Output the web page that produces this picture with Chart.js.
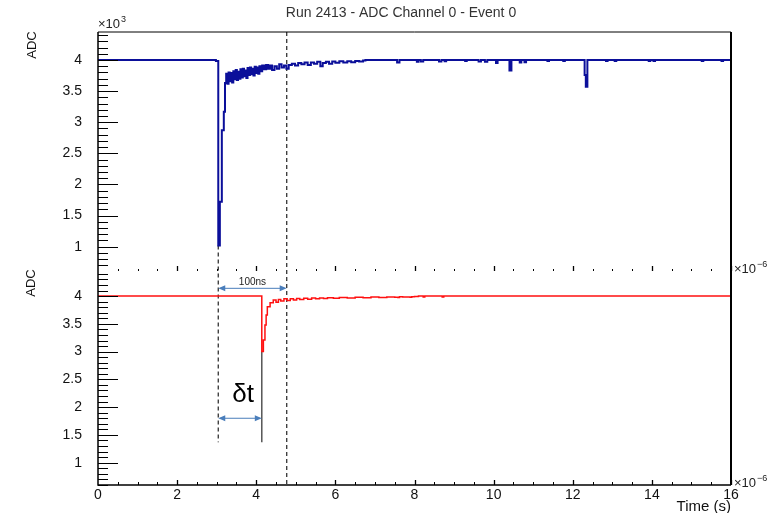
<!DOCTYPE html>
<html>
<head>
<meta charset="utf-8">
<title>Run 2413 - ADC Channel 0 - Event 0</title>
<script src="https://cdn.jsdelivr.net/npm/chart.js@4.4.0/dist/chart.umd.min.js"></script>
<style>
  html, body { margin: 0; padding: 0; background: #fff; }
  #wrap { width: 782px; height: 513px; }
</style>
</head>
<body>
<div id="wrap"><canvas id="adcChart" width="782" height="513"></canvas></div>
<script>
  // time in microseconds, ADC in counts (shown in units of 10^3)
  const blueTime = [
    0, 2.98, 3.04, 3.08, 3.13, 3.18, 3.21, 3.24, 3.27, 3.30, 3.33, 3.36, 3.39, 3.42, 3.45, 3.48,
    3.51, 3.54, 3.57, 3.60, 3.63, 3.66, 3.69, 3.72, 3.75, 3.78, 3.81, 3.84, 3.87, 3.90, 3.93, 3.96,
    3.99, 4.02, 4.05, 4.08, 4.11, 4.15, 4.20, 4.25, 4.30, 4.35, 4.40, 4.46, 4.52, 4.58, 4.64, 4.70,
    4.76, 4.82, 4.90, 4.98, 5.06, 5.14, 5.22, 5.30, 5.38, 5.46, 5.54, 5.62, 5.68, 5.76, 5.84, 5.92,
    6.00, 6.10, 6.20, 6.30, 6.40, 6.50, 6.60, 6.70, 6.76, 7.56, 7.62, 8.06, 8.10, 8.16, 8.22, 8.62,
    8.68, 8.76, 8.80, 9.28, 9.32, 9.62, 9.68, 9.78, 9.84, 10.06, 10.10, 10.40, 10.45, 10.66, 10.70, 10.78,
    10.82, 11.36, 11.40, 11.76, 11.80, 12.30, 12.33, 12.37, 12.84, 12.88, 13.06, 13.10, 13.92, 13.96, 14.04, 14.08,
    15.26, 15.30, 15.76, 15.80, 16
  ];
  const blueAdc = [
    4000, 3985, 1020, 1720, 2870, 3170, 3630, 3780, 3620, 3800, 3660, 3790, 3640, 3820, 3690, 3840,
    3680, 3810, 3700, 3850, 3720, 3860, 3740, 3830, 3710, 3870, 3760, 3880, 3770, 3860, 3750, 3890,
    3790, 3880, 3780, 3900, 3820, 3910, 3850, 3920, 3860, 3910, 3840, 3900, 3860, 3930, 3880, 3910,
    3860, 3920, 3940, 3910, 3950, 3930, 3960, 3920, 3960, 3940, 3970, 3900, 3950, 3970, 3940, 3975,
    3955, 3980, 3960, 3980, 3965, 3985, 3975, 3990, 4000, 3960, 4000, 3970, 4000, 3975, 4000, 3975,
    4000, 3980, 4000, 3985, 4000, 3975, 4000, 3970, 4000, 3950, 4000, 3830, 4000, 3960, 4000, 3965,
    4000, 3985, 4000, 3985, 4000, 3760, 3570, 4000, 3985, 4000, 3985, 4000, 3985, 4000, 3985, 4000,
    3985, 4000, 3985, 4000, 4000
  ];

  const redTime = [
    0, 4.14, 4.18, 4.22, 4.25, 4.28, 4.35, 4.43, 4.50, 4.56, 4.62, 4.70, 4.78, 4.86, 4.94, 5.02,
    5.10, 5.20, 5.30, 5.40, 5.50, 5.60, 5.70, 5.80, 5.95, 6.10, 6.30, 6.50, 6.70, 6.90, 7.10, 7.30,
    7.50, 7.58, 7.62, 7.70, 7.89, 7.93, 8.00, 8.10, 8.22, 8.26, 8.70, 8.74, 16
  ];
  const redAdc = [
    4000, 3000, 3210, 3480, 3660, 3810, 3880, 3930, 3890, 3940, 3910, 3950, 3920, 3950, 3930, 3955,
    3940, 3960, 3945, 3965, 3950, 3965, 3955, 3970, 3960, 3975, 3965, 3980, 3970, 3985, 3975, 3985,
    3980, 3975, 3990, 3985, 3980, 3990, 3995, 4000, 3985, 4000, 3985, 4000, 4000
  ];

  // labelled ADC ticks on both panels
  const adcTicks = [1000, 1500, 2000, 2500, 3000, 3500, 4000];

  // trigger references and the red pulse onset (µs)
  const markerTimes = [3.04, 4.77];
  const pulseOnset = 4.14;
  const windowLabel = "100ns";
  const delayLabel = "δt";

  const FONT = '"Liberation Sans", Arial, Helvetica, sans-serif';

  function toPoints(times, values) {
    return times.map((t, i) => ({ x: t, y: values[i] }));
  }

  function arrowHead(ctx, x, y, dir) {
    ctx.beginPath();
    ctx.moveTo(x, y);
    ctx.lineTo(x + dir * 7, y - 3);
    ctx.lineTo(x + dir * 7, y + 3);
    ctx.closePath();
    ctx.fill();
  }

  function doubleArrow(ctx, x1, x2, y) {
    ctx.beginPath();
    ctx.moveTo(x1 + 2, y);
    ctx.lineTo(x2 - 2, y);
    ctx.stroke();
    arrowHead(ctx, x1, y, 1);
    arrowHead(ctx, x2, y, -1);
  }

  function powerLabel(ctx, x, y, base, exp) {
    ctx.textAlign = "left";
    ctx.textBaseline = "alphabetic";
    ctx.font = `13px ${FONT}`;
    ctx.fillText(base, x, y);
    const w = ctx.measureText(base).width;
    ctx.font = `9px ${FONT}`;
    ctx.fillText(exp, x + w + 1, y - 6);
  }

  const panelMarks = {
    id: "panelMarks",
    beforeDatasetsDraw(chart) {
      const { ctx, chartArea } = chart;
      const x = chart.scales.x;
      const yTop = chart.scales.yTop;
      const yBottom = chart.scales.yBottom;
      ctx.save();
      ctx.strokeStyle = "#333";
      ctx.lineWidth = 1.3;
      ctx.setLineDash([4, 3]);
      let px = x.getPixelForValue(markerTimes[0]);
      ctx.beginPath();
      ctx.moveTo(px, yTop.getPixelForValue(1020));
      ctx.lineTo(px, yBottom.getPixelForValue(1370));
      ctx.stroke();
      px = x.getPixelForValue(markerTimes[1]);
      ctx.beginPath();
      ctx.moveTo(px, chartArea.top);
      ctx.lineTo(px, chartArea.bottom);
      ctx.stroke();
      ctx.setLineDash([]);
      ctx.strokeStyle = "#555";
      ctx.lineWidth = 1.5;
      px = x.getPixelForValue(pulseOnset);
      ctx.beginPath();
      ctx.moveTo(px, yBottom.getPixelForValue(3000));
      ctx.lineTo(px, yBottom.getPixelForValue(1370));
      ctx.stroke();
      ctx.restore();
    },
    afterDatasetsDraw(chart) {
      const { ctx, chartArea } = chart;
      const x = chart.scales.x;
      const yTop = chart.scales.yTop;
      const yBottom = chart.scales.yBottom;
      const { left, right, top, bottom } = chartArea;
      ctx.save();

      // frame
      ctx.strokeStyle = "#000";
      ctx.lineWidth = 1;
      ctx.beginPath();
      ctx.moveTo(left, top);
      ctx.lineTo(right, top);
      ctx.stroke();
      ctx.lineWidth = 1.5;
      ctx.beginPath();
      ctx.moveTo(left, top);
      ctx.lineTo(left, bottom);
      ctx.lineTo(right, bottom);
      ctx.stroke();
      ctx.lineWidth = 2;
      ctx.beginPath();
      ctx.moveTo(right, top);
      ctx.lineTo(right, bottom);
      ctx.stroke();

      // inward y ticks, major every 500 and minor every 100
      ctx.lineWidth = 1;
      [yTop, yBottom].forEach((scale) => {
        for (let v = Math.ceil(scale.min / 100) * 100; v <= scale.max; v += 100) {
          const py = Math.round(scale.getPixelForValue(v)) + 0.5;
          const len = v % 500 === 0 ? 20 : 10;
          ctx.beginPath();
          ctx.moveTo(left, py);
          ctx.lineTo(left + len, py);
          ctx.stroke();
        }
      });

      // x ticks on both panels
      const split = yTop.bottom;
      for (let v = 0.5; v <= 16; v += 0.5) {
        const px = Math.round(x.getPixelForValue(v)) + 0.5;
        const major = v % 2 === 0;
        ctx.lineWidth = major ? 1.3 : 1;
        ctx.beginPath();
        ctx.moveTo(px, split + 1);
        ctx.lineTo(px, split + 1 - (major ? 5 : 2));
        ctx.moveTo(px, bottom);
        ctx.lineTo(px, bottom - (major ? 5 : 3));
        ctx.stroke();
      }

      // annotation arrows
      ctx.strokeStyle = "#4a7ebb";
      ctx.fillStyle = "#4a7ebb";
      ctx.lineWidth = 1;
      const m0 = x.getPixelForValue(markerTimes[0]);
      const m1 = x.getPixelForValue(markerTimes[1]);
      const onset = x.getPixelForValue(pulseOnset);
      const yWin = yBottom.getPixelForValue(4140);
      const yDelay = yBottom.getPixelForValue(1800);
      doubleArrow(ctx, m0, m1, yWin);
      doubleArrow(ctx, m0, onset, yDelay);

      ctx.fillStyle = "#222";
      ctx.textAlign = "center";
      ctx.textBaseline = "middle";
      ctx.font = `10px ${FONT}`;
      ctx.fillText(windowLabel, (m0 + m1) / 2, yWin - 6);
      ctx.fillStyle = "#000";
      ctx.font = `26px ${FONT}`;
      ctx.fillText(delayLabel, x.getPixelForValue(3.67), yBottom.getPixelForValue(2220));

      // titles and exponents
      ctx.fillStyle = "#333";
      ctx.font = `14px ${FONT}`;
      ctx.fillText("Run 2413 - ADC Channel 0 - Event 0", 401, 13);

      ctx.fillStyle = "#111";
      ctx.textAlign = "right";
      ctx.font = `15px ${FONT}`;
      ctx.fillText("Time (s)", right, 507);

      ctx.font = `13px ${FONT}`;
      ctx.textAlign = "center";
      [[32, 45], [31, 283]].forEach(([cx, cy]) => {
        ctx.save();
        ctx.translate(cx, cy);
        ctx.rotate(-Math.PI / 2);
        ctx.fillText("ADC", 0, 0);
        ctx.restore();
      });

      ctx.fillStyle = "#222";
      powerLabel(ctx, left, 28, "×10", "3");
      powerLabel(ctx, right + 3, 273, "×10", "−6");
      powerLabel(ctx, right + 3, 487, "×10", "−6");
      ctx.restore();
    }
  };

  function adcAxis(min, max, weight) {
    return {
      type: "linear",
      position: "left",
      stack: "adc",
      stackWeight: weight,
      min: min,
      max: max,
      grid: { display: false },
      border: { display: false },
      afterBuildTicks: (scale) => {
        scale.ticks = adcTicks.map((v) => ({ value: v }));
      },
      ticks: {
        autoSkip: false,
        padding: 8,
        color: "#111",
        font: { family: FONT, size: 14 },
        callback: (value) => value / 1000
      },
      afterFit: (scale) => { scale.width = 40; }
    };
  }

  new Chart(document.getElementById("adcChart"), {
    type: "line",
    data: {
      datasets: [
        {
          label: "Channel 0",
          data: toPoints(blueTime, blueAdc),
          yAxisID: "yTop",
          borderColor: "#0b0f9a",
          borderWidth: 2,
          stepped: true,
          pointRadius: 0,
          fill: false
        },
        {
          label: "Channel 1",
          data: toPoints(redTime, redAdc),
          yAxisID: "yBottom",
          borderColor: "#ff1010",
          borderWidth: 1.5,
          stepped: true,
          pointRadius: 0,
          fill: false
        }
      ]
    },
    options: {
      responsive: false,
      animation: false,
      layout: { padding: { left: 58, right: 51, top: 32, bottom: 8 } },
      plugins: {
        legend: { display: false },
        tooltip: { enabled: false },
        title: { display: false }
      },
      scales: {
        x: {
          type: "linear",
          min: 0,
          max: 16,
          grid: { display: false },
          border: { display: false },
          ticks: {
            stepSize: 2,
            maxRotation: 0,
            autoSkip: false,
            padding: -6,
            color: "#111",
            font: { family: FONT, size: 14 }
          },
          afterFit: (scale) => { scale.height = 20; }
        },
        yBottom: adcAxis(598, 4470, 215),
        yTop: adcAxis(625, 4450, 238)
      }
    },
    plugins: [panelMarks]
  });
</script>
</body>
</html>
